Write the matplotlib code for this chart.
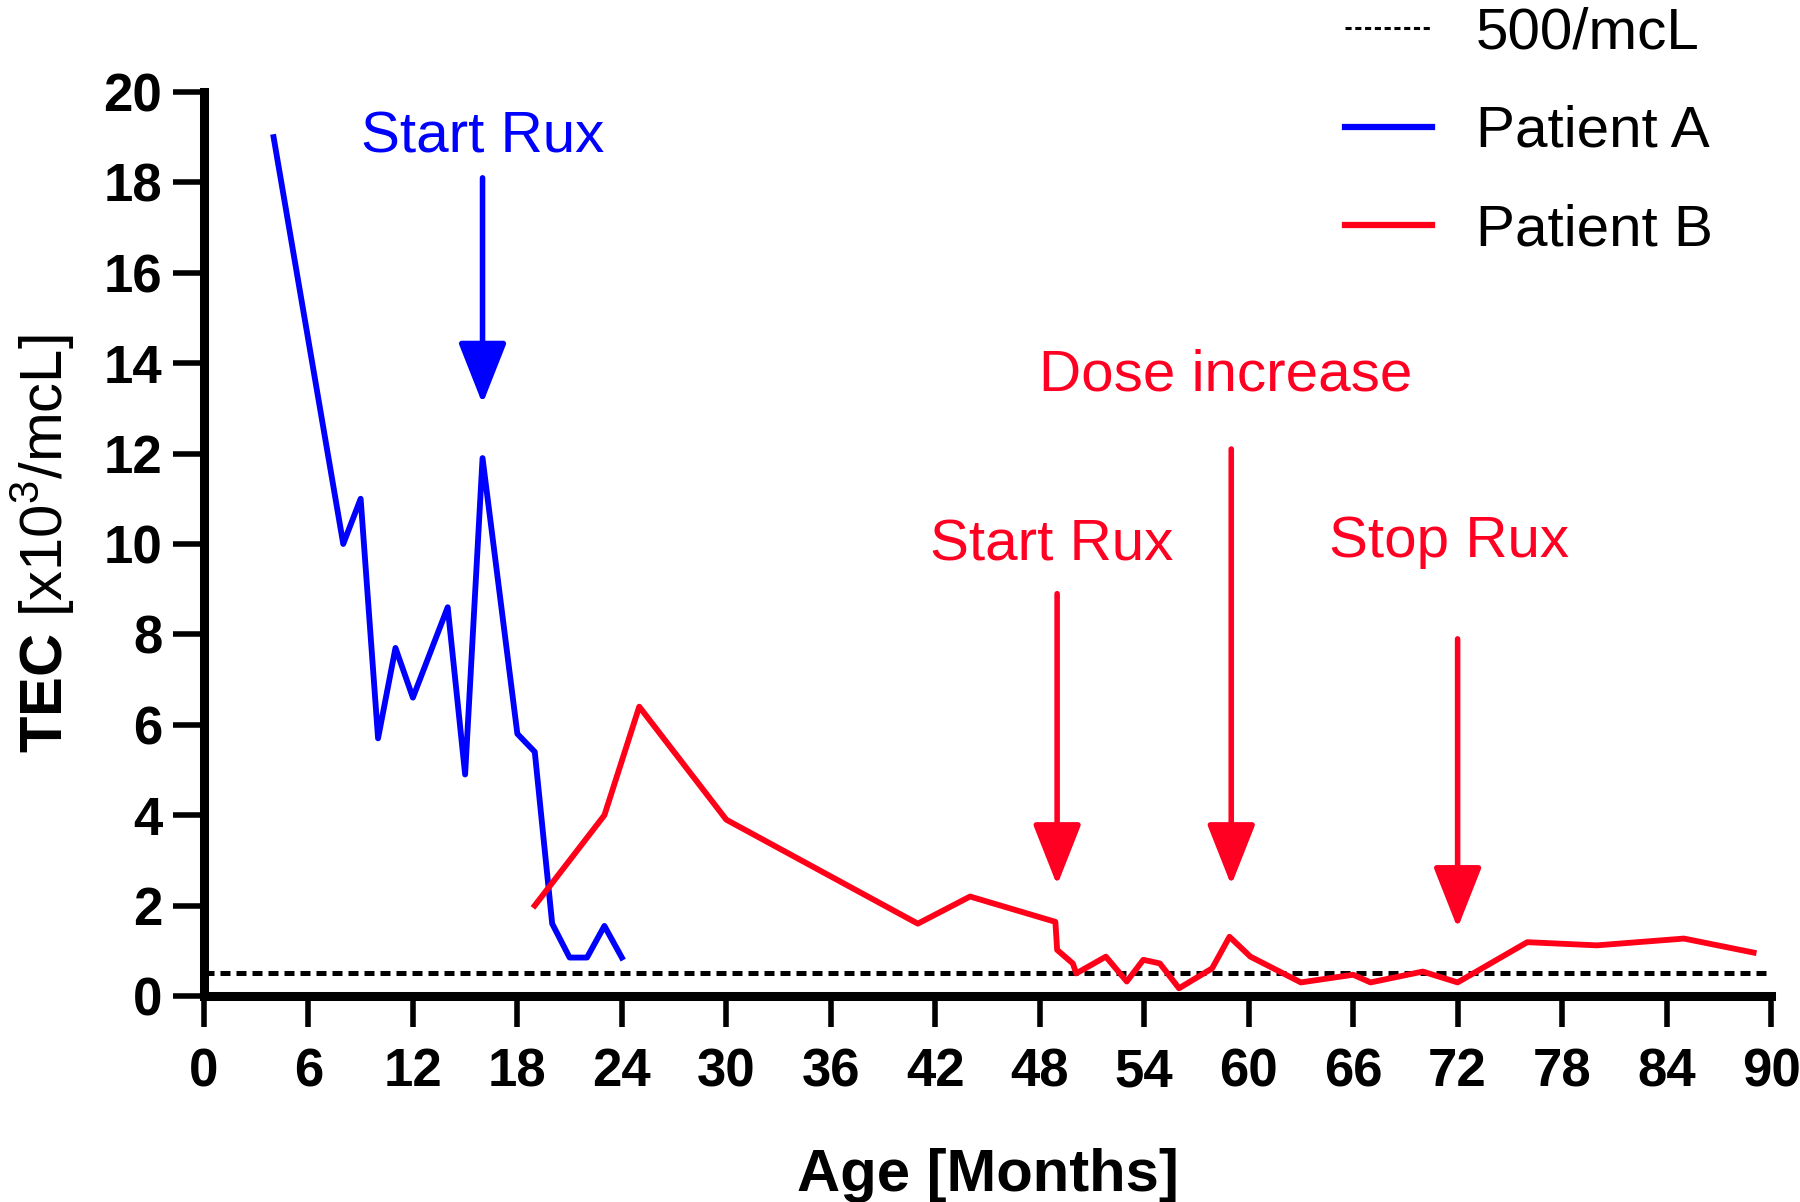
import numpy as np
import matplotlib
matplotlib.use("Agg")
import matplotlib.pyplot as plt

plt.rcParams['font.family'] = ['Liberation Sans', 'DejaVu Sans']
plt.rcParams['mathtext.fontset'] = 'custom'
plt.rcParams['mathtext.rm'] = 'Liberation Sans'
plt.rcParams['mathtext.bf'] = 'Liberation Sans:bold'

# data (age in months, TEC in x10^3/mcL)
months_a = [4, 8, 9, 10, 11, 12, 14, 15, 16, 18, 19, 20, 21, 22, 23, 24]
tec_a = [19.0, 10.0, 11.0, 5.7, 7.7, 6.6, 8.6, 4.9, 11.9, 5.8, 5.4, 1.6, 0.85, 0.85, 1.55, 0.85]

months_b = [19, 23, 25, 30, 41, 44, 48.9, 49.0, 49.9, 50.1, 51.8, 53.0, 53.95, 54.9, 56.0,
            57.9, 58.9, 60.1, 63, 66, 67, 70, 72, 76, 80, 85, 89]
tec_b = [2.0, 4.0, 6.4, 3.9, 1.6, 2.2, 1.64, 1.02, 0.72, 0.5, 0.87, 0.32, 0.8, 0.72, 0.17,
         0.61, 1.31, 0.87, 0.3, 0.47, 0.3, 0.54, 0.3, 1.19, 1.12, 1.27, 0.96]

threshold = 0.5
threshold_label = "500/mcL"

# annotations: (label, month, arrow top, arrow tip, text baseline, colour)
events = [
    ("Start Rux", 16, 18.1, 13.1, 18.65, "#0000ff"),
    ("Start Rux", 49, 8.9, 2.45, 9.64, "#ff0022"),
    ("Dose increase", 59, 12.1, 2.45, 13.4, "#ff0022"),
    ("Stop Rux", 72, 7.9, 1.5, 9.72, "#ff0022"),
]
text_x = [16, 48.7, 58.7, 71.5]

fig = plt.figure(figsize=(18, 12.02), dpi=100)
ax = fig.add_subplot(111)
fig.subplots_adjust(left=0.1133, right=0.9839, bottom=0.1714, top=0.9235)

ax.plot([0, 90], [threshold, threshold], color='black', lw=3.6, dashes=(2.0, 1.2),
        label=threshold_label, clip_on=False)
ax.plot(months_a, tec_a, color='#0000ff', lw=4.2, label='Patient A', clip_on=False)
ax.plot(months_b, tec_b, color='#ff0018', lw=4.2, label='Patient B', clip_on=False)

for (label, m, top, tip, base, col), tx in zip(events, text_x):
    ax.annotate('', xy=(m, tip), xytext=(m, top),
                arrowprops=dict(arrowstyle='-|>,head_length=38,head_width=15',
                                mutation_scale=1, lw=4.0, color=col,
                                shrinkA=0, shrinkB=0))
    ax.text(tx, base, label, color=col, fontsize=42, ha='center', va='baseline')

ax.set_xlim(0, 90)
ax.set_ylim(0, 20)
ax.set_xticks(np.arange(0, 91, 6))
ax.set_yticks(np.arange(0, 21, 2))
for s in ['top', 'right']:
    ax.spines[s].set_visible(False)
for s in ['left', 'bottom']:
    ax.spines[s].set_linewidth(6.5)
ax.tick_params(axis='both', length=22, width=4.0, labelsize=38)
ax.tick_params(axis='x', pad=15)
ax.tick_params(axis='y', pad=8)
for lab in ax.get_xticklabels() + ax.get_yticklabels():
    lab.set_fontweight('bold')

ax.set_xlabel('Age [Months]', fontsize=43, fontweight='bold')
ax.xaxis.set_label_coords(0.5, -0.168)
ax.set_ylabel(r'$\mathbf{TEC}$ [x10$^3$/mcL]', fontsize=43)
ax.yaxis.set_label_coords(-0.081, 0.5)

leg = fig.legend(loc='upper left', bbox_to_anchor=(0.747, 0.995), frameon=False,
                 fontsize=42, handlelength=1.5, handletextpad=0.75,
                 labelspacing=0.77, borderpad=0, borderaxespad=0)
for i, ln in enumerate(leg.get_lines()):
    ln.set_linewidth(2.2 if i == 0 else 4.5)

fig.savefig('out.png', dpi=100)
